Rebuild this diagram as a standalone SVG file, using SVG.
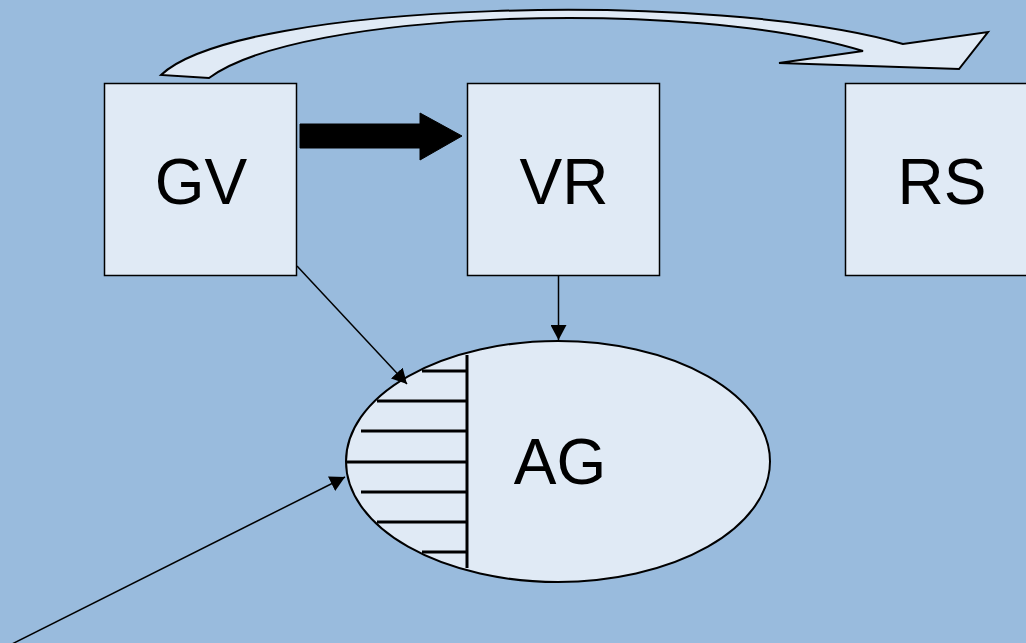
<svg xmlns="http://www.w3.org/2000/svg" width="1026" height="643" viewBox="0 0 1026 643">
<defs>
<style>
.box{fill:#E0EAF5;stroke:#000;stroke-width:1.5}
.lbl{font-family:"Liberation Sans",Arial,sans-serif;font-size:64px;fill:#000;text-anchor:middle}
.conn{stroke:#000;stroke-width:1.5;fill:none}
.hatch{stroke:#000;stroke-width:3;fill:none}
</style>
<marker id="ah" markerUnits="userSpaceOnUse" markerWidth="16" markerHeight="16" viewBox="0 0 16 16" refX="15" refY="8" orient="auto">
<path d="M0,0 L15,8 L0,16 Z" fill="#000"/>
</marker>
</defs>
<rect width="1026" height="643" fill="#99BBDD"/>
<g id="GV">
<rect class="box" x="104.5" y="83.5" width="192" height="192"/>
<text class="lbl" x="201" y="204">GV</text>
</g>
<g id="VR">
<rect class="box" x="467.5" y="83.5" width="192" height="192"/>
<text class="lbl" x="564" y="204">VR</text>
</g>
<g id="RS">
<rect class="box" x="845.5" y="83.5" width="192" height="192"/>
<text class="lbl" x="942" y="204">RS</text>
</g>
<g id="AG">
<ellipse cx="558" cy="461.5" rx="212" ry="120.5" fill="#E0EAF5" stroke="#000" stroke-width="2"/>
<g class="hatch">
<line x1="467" y1="355" x2="467" y2="568"/>
<line x1="422" y1="371" x2="467" y2="371"/>
<line x1="377" y1="401" x2="467" y2="401"/>
<line x1="361" y1="431" x2="467" y2="431"/>
<line x1="347" y1="462" x2="467" y2="462"/>
<line x1="361" y1="492" x2="467" y2="492"/>
<line x1="377" y1="522" x2="467" y2="522"/>
<line x1="422" y1="552" x2="467" y2="552"/>
</g>
<text class="lbl" x="560" y="484">AG</text>
</g>
<g id="connectors">
<path d="M161,75 C240,0 720,-10 903,44 L988,32 L959,69 L779,63 L863,51 C690,-2 300,10 209,78 Z" fill="#E0EAF5" stroke="#000" stroke-width="2" stroke-linejoin="miter"/>
<polygon points="300,124 420,124 420,113 462,136 420,160 420,148 300,148" fill="#000" stroke="#000" stroke-width="1"/>
<line class="conn" x1="297" y1="266" x2="407" y2="384" marker-end="url(#ah)"/>
<line class="conn" x1="558.5" y1="276" x2="558.5" y2="340" marker-end="url(#ah)"/>
<line class="conn" x1="8" y1="646" x2="345" y2="477" marker-end="url(#ah)"/>
</g>
</svg>
